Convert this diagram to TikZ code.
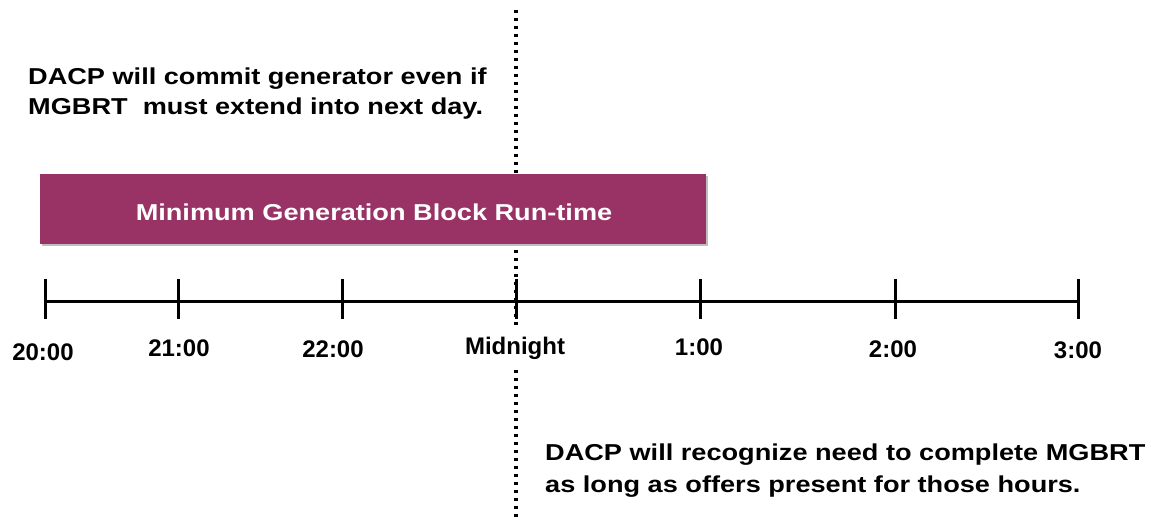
\documentclass[tikz,border=0pt]{standalone}
\usepackage{fontspec}
\setmainfont{Liberation Sans}
\newfontfamily\widefont[FakeStretch=1.18]{Liberation Sans}
\definecolor{blockfill}{RGB}{153,51,102}
\definecolor{shadowgray}{RGB}{190,190,190}
\begin{document}
\begin{tikzpicture}[x=1pt,y=-1pt,
  note/.style={font=\widefont\bfseries\fontsize{23}{30}\selectfont, anchor=base west, inner sep=0pt},
  ticklabel/.style={font=\bfseries\fontsize{24}{28}\selectfont, anchor=base, inner sep=1pt},
  axis/.style={line width=3pt, black},
  divider/.style={line width=3.4pt, dash pattern=on 3.4pt off 4.6pt, black}]
\useasboundingbox (0,0) rectangle (1151,521);

% midnight divider
\coordinate (dtop) at (516,10);
\coordinate (dbot) at (516,521);
\draw[divider] (dtop) -- (dbot);

% notes
\node[note] (n1) at (28,85) {DACP will commit generator even if};
\node[note] (n2) at (28,115) {MGBRT\ \ must extend into next day.};
\node[note] (n3) at (545,460) {DACP will recognize need to complete MGBRT};
\node[note] (n4) at (545,492) {as long as offers present for those hours.};

% block run-time bar with a soft shadow
\fill[shadowgray] (42,176) rectangle (708,246);
\node[draw=none, fill=blockfill, minimum width=666pt, minimum height=70pt, anchor=north west, inner sep=0pt] (block) at (40,174) {};
\node[font=\widefont\bfseries\fontsize{23}{28}\selectfont, text=white, anchor=base, inner sep=0pt] (blocklabel) at (374,221) {Minimum Generation Block Run-time};

% timeline
\foreach \n/\x in {t0/45, t1/178, t2/342, t3/516, t4/700, t5/895, t6/1078}{
  \coordinate (\n) at (\x,302);
  \draw[axis] (\x,279) -- (\x,319);
}
\draw[axis] (t0) -- (t6);

% hour labels
\node[ticklabel] (l0) at (43,360) {20:00};
\node[ticklabel] (l1) at (179,356) {21:00};
\node[ticklabel] (l2) at (333,357) {22:00};
\node[ticklabel, fill=white, inner xsep=4pt, inner ysep=8pt] (l3) at (515,354) {Midnight};
\node[ticklabel] (l4) at (699,355) {1:00};
\node[ticklabel] (l5) at (893,357) {2:00};
\node[ticklabel] (l6) at (1078,358) {3:00};
\end{tikzpicture}
\end{document}
